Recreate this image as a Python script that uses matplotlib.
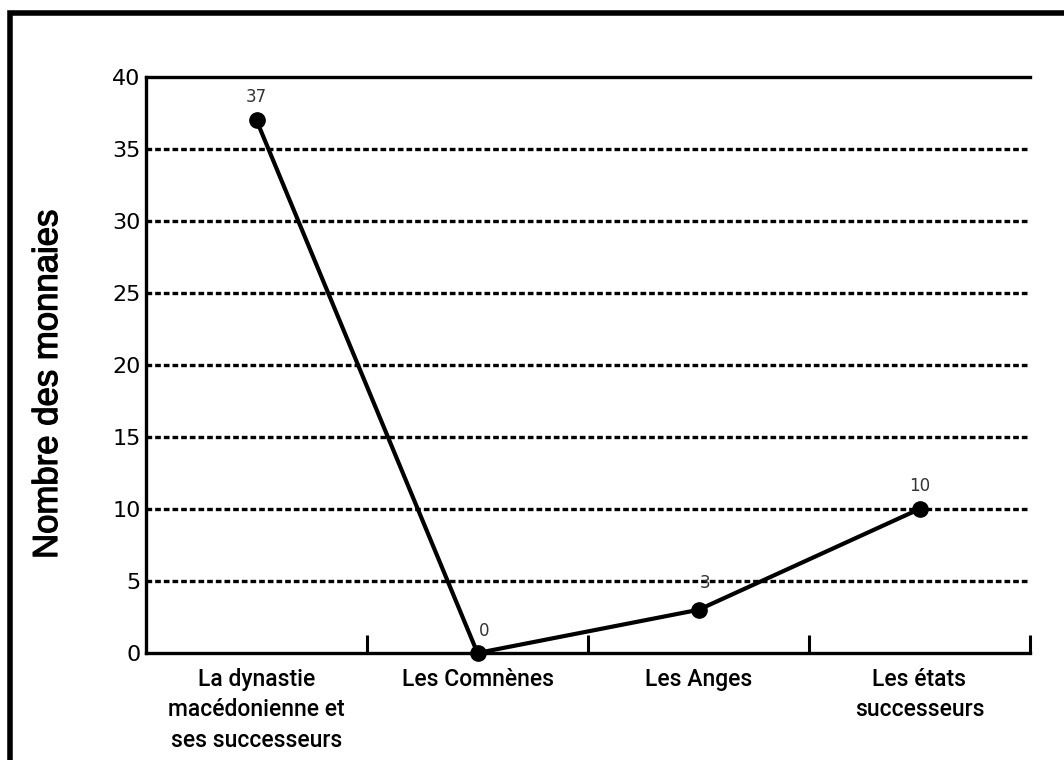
import matplotlib
matplotlib.use('Agg')
import matplotlib.pyplot as plt
import matplotlib.patheffects as pe
from matplotlib.patches import Rectangle

# Données
categories = ['La dynastie\nmacédonienne et\nses successeurs', 'Les Comnènes',
              'Les Anges', 'Les états\nsuccesseurs']
monnaies = [37, 0, 3, 10]
yticks = [0, 5, 10, 15, 20, 25, 30, 35, 40]

fig = plt.figure(figsize=(10.64, 7.6), dpi=100)
ax = fig.add_axes([146 / 1064, 1 - 653 / 760, (1030 - 146) / 1064, (653 - 77) / 760])

# cadre extérieur (seulement haut et gauche visibles)
fig.patches.append(Rectangle((9.5 / 1064, -0.1), 1.2, (1 - 12.5 / 760) + 0.1,
                             transform=fig.transFigure, fill=False,
                             edgecolor='black', linewidth=4, zorder=0))

x = list(range(len(categories)))
ax.plot(x, monnaies, color='black', linewidth=3, marker='o', markersize=11, zorder=3,
        clip_on=False)

offsets = [(0, 10), (5, 9), (5, 13), (0, 10)]
for xi, v, off in zip(x, monnaies, offsets):
    ax.annotate(str(v), (xi, v), xytext=off, textcoords='offset points',
                ha='center', va='bottom', fontsize=12, color='#333333')

ax.set_xlim(-0.5, 3.5)
ax.set_ylim(0, 40)
ax.set_yticks(yticks)
ax.set_yticklabels([str(t) for t in yticks], fontsize=16)
for t in yticks[1:-1]:
    ax.axhline(t, color='black', linewidth=2.4, linestyle=(0, (1.7, 0.9)), zorder=1)

ax.set_xticks([0.5, 1.5, 2.5, 3.5])
ax.set_xticklabels([])
ax.set_xticks(x, minor=True)
ax.set_xticklabels(categories, minor=True, fontsize=16.5, fontweight='medium',
                   family='Roboto', linespacing=1.4)
ax.tick_params(axis='x', which='major', direction='in', length=13, width=2.2)
ax.tick_params(axis='x', which='minor', length=0, pad=11)
ax.tick_params(axis='y', length=0, pad=4)

for s in ['left', 'bottom', 'top']:
    ax.spines[s].set_linewidth(2.4)
ax.spines['right'].set_visible(False)

ax.set_ylabel('Nombre des monnaies', fontsize=25, family='Liberation Sans',
              path_effects=[pe.withStroke(linewidth=0.9, foreground='black')])
ax.yaxis.set_label_coords(-82 / 884, 0.5 - 19 / 576)

fig.savefig('out.png', dpi=100)
